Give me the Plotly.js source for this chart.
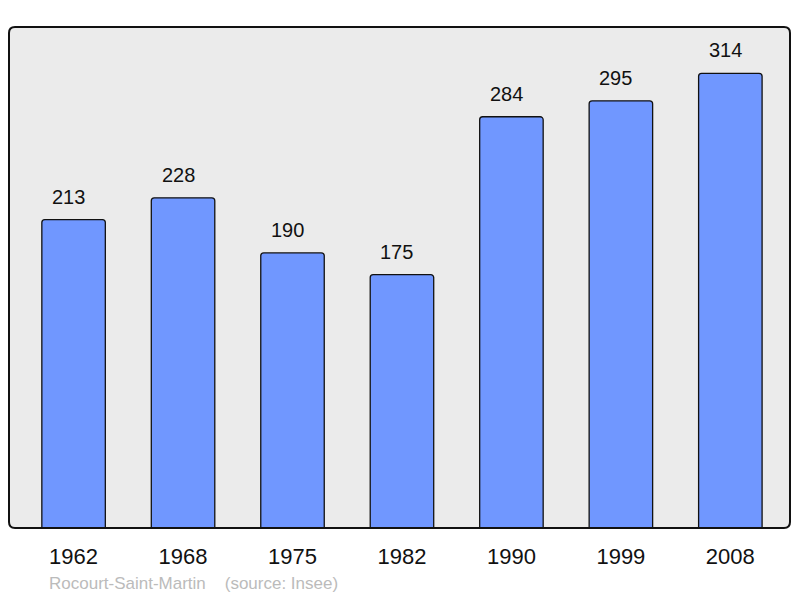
<!DOCTYPE html>
<html><head><meta charset="utf-8">
<script src="https://cdn.plot.ly/plotly-3.0.1.min.js"></script>
<style>html,body{margin:0;padding:0;background:#fff;}#chart{width:800px;height:598px;}</style>
</head><body><div id="chart"></div>
<script>
const years = ["1962","1968","1975","1982","1990","1999","2008"];
const population = [213, 228, 190, 175, 284, 295, 314];
const place = "Rocourt-Saint-Martin";
const source = "(source: Insee)";

const trace = {
  type: "bar",
  x: years,
  y: population,
  width: 0.58,
  marker: {color: "#7097ff", line: {color: "#111", width: 1.3}, cornerradius: 3},
  hoverinfo: "none"
};

const font = "Liberation Sans, Arial, sans-serif";
const annotations = years.map((yr, i) => ({
  x: i, y: population[i], xref: "x", yref: "y",
  text: String(population[i]), showarrow: false,
  yanchor: "bottom", yshift: 10, xshift: -5,
  font: {family: font, size: 20, color: "#111"}
}));
annotations.push({
  xref: "paper", yref: "paper", x: 0.049, y: -0.11, xanchor: "left", yanchor: "middle",
  text: place + "&nbsp;&nbsp;&nbsp;&nbsp;" + source, showarrow: false,
  font: {family: font, size: 17, color: "#bbbbbb"}
});

// rounded frame path in paper coords
const rx = 6 / 781, ry = 6 / 501;
const framePath = `M ${rx},0 L ${1 - rx},0 Q 1,0 1,${ry} L 1,${1 - ry} Q 1,1 ${1 - rx},1 L ${rx},1 Q 0,1 0,${1 - ry} L 0,${ry} Q 0,0 ${rx},0 Z`;

const layout = {
  width: 800, height: 598,
  margin: {l: 9, r: 10, t: 27, b: 70},
  paper_bgcolor: "#ffffff",
  plot_bgcolor: "#ffffff",
  showlegend: false,
  xaxis: {
    type: "category", range: [-0.59, 6.545],
    showgrid: false, zeroline: false, showline: false, ticks: "",
    ticklabelstandoff: 13,
    tickfont: {family: font, size: 22, color: "#111"}
  },
  yaxis: {
    range: [0, 346], showgrid: false, zeroline: false, showline: false,
    showticklabels: false, ticks: ""
  },
  annotations: annotations,
  shapes: [
    {type: "path", xref: "paper", yref: "paper", path: framePath,
     fillcolor: "#ebebeb", line: {width: 0}, layer: "below"},
    {type: "path", xref: "paper", yref: "paper", path: framePath,
     line: {color: "#111", width: 2}, layer: "above"}
  ]
};

Plotly.newPlot("chart", [trace], layout, {staticPlot: true, displayModeBar: false});
</script></body></html>
